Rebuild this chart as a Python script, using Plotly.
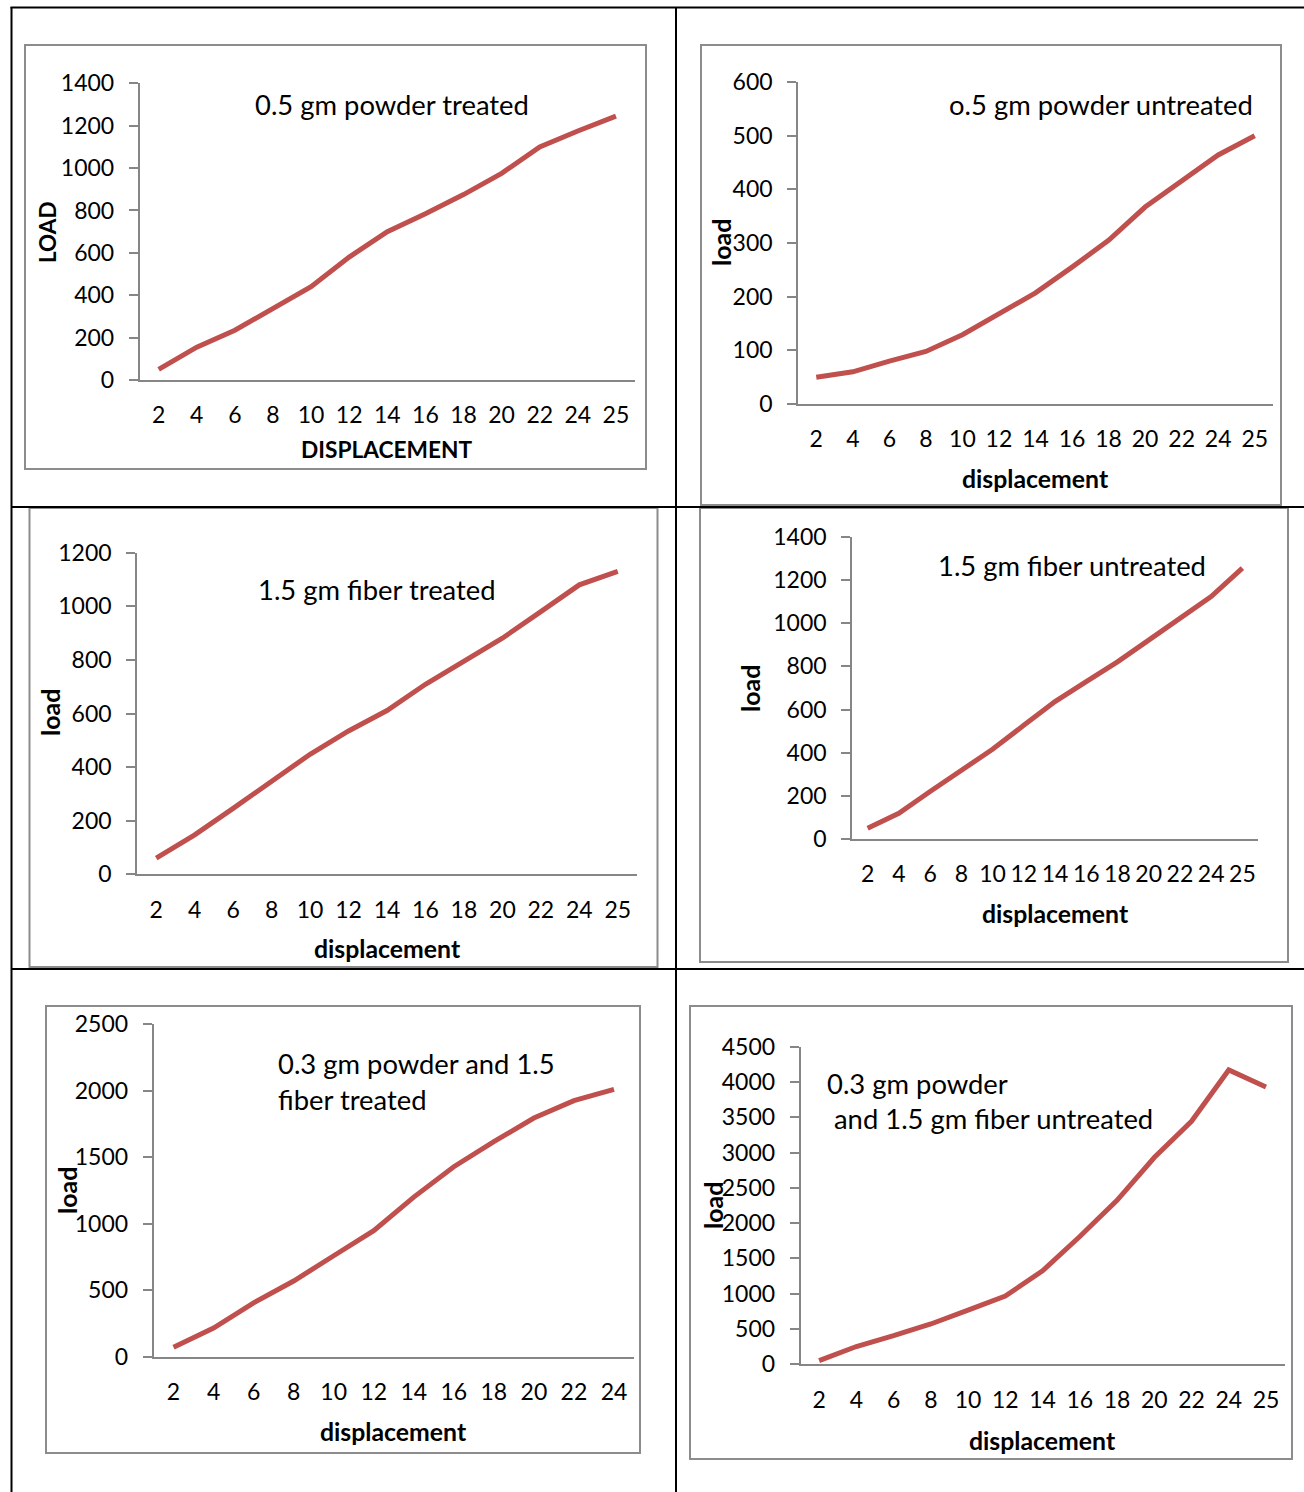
import plotly.graph_objects as go

W, H = 1304, 1492

# ---- data ----
displacement_13 = ["2", "4", "6", "8", "10", "12", "14", "16", "18", "20", "22", "24", "25"]
displacement_12 = ["2", "4", "6", "8", "10", "12", "14", "16", "18", "20", "22", "24"]

load_powder_treated = [50, 155, 235, 340, 440, 580, 700, 785, 875, 975, 1100, 1175, 1245]
load_powder_untreated = [50, 60, 80, 98, 129, 168, 207, 255, 305, 367, 415, 464, 500]
load_fiber_treated = [60, 147, 246, 346, 448, 535, 611, 709, 794, 881, 980, 1080, 1130]
load_fiber_untreated = [50, 119, 220, 317, 416, 527, 637, 730, 821, 922, 1021, 1124, 1256]
load_mix_treated = [70, 215, 404, 568, 758, 947, 1199, 1427, 1616, 1793, 1924, 2008]
load_mix_untreated = [52, 252, 405, 571, 767, 967, 1324, 1810, 2324, 2929, 3443, 4171, 3929]

titles = [
    "0.5 gm powder treated",
    "o.5 gm powder untreated",
    "1.5 gm fiber treated",
    "1.5 gm fiber untreated",
    "0.3 gm powder and 1.5<br>fiber treated",
    "0.3 gm powder",
]
x_titles = ["DISPLACEMENT", "displacement", "displacement", "displacement", "displacement", "displacement"]
y_titles = ["LOAD", "load", "load", "load", "load", "load"]
y_max = [1400, 600, 1200, 1400, 2500, 4500]
y_step = [200, 100, 200, 200, 500, 500]

# ---- layout geometry (pixels from top-left of the page) ----
panels = [
    dict(x=displacement_13, y=load_powder_treated, plot=(139.6, 635, 83.3, 380),
         frame=(25, 646, 45, 469), xt_y=450, yt=(47, 232), title=(253, 105)),
    dict(x=displacement_13, y=load_powder_untreated, plot=(798, 1273, 82, 404),
         frame=(701, 1281, 45, 505), xt_y=479, yt=(721, 243), title=(947, 105)),
    dict(x=displacement_13, y=load_fiber_treated, plot=(137, 637, 552.7, 874.3),
         frame=(29.5, 657.5, 508, 967), xt_y=948, yt=(50, 713), title=(256, 590)),
    dict(x=displacement_13, y=load_fiber_untreated, plot=(852, 1258, 537, 839),
         frame=(700, 1288, 508, 962), xt_y=913, yt=(750, 689), title=(936, 566)),
    dict(x=displacement_12, y=load_mix_treated, plot=(153.5, 634, 1024, 1356.6),
         frame=(46, 640, 1006, 1453), xt_y=1431, yt=(67, 1191), title=(276, 1081)),
    dict(x=displacement_13, y=load_mix_untreated, plot=(800.5, 1284.6, 1046.7, 1364.3),
         frame=(690, 1292, 1006, 1459), xt_y=1440, yt=(713, 1206), title=(825, 1083.5)),
]


def px(x):
    return x / W


def py(y):
    return 1 - y / H


FONT = "Lato, 'Open Sans', sans-serif"
LINE_RED = "#C0504D"
AXIS_GREY = "#868686"
FRAME_GREY = "#8C8C8C"

fig = go.Figure()
shapes = []
annotations = []

for i, p in enumerate(panels):
    n = i + 1
    xa = "x" if n == 1 else f"x{n}"
    ya = "y" if n == 1 else f"y{n}"
    fig.add_trace(go.Scatter(
        x=p["x"], y=p["y"], mode="lines",
        line=dict(color=LINE_RED, width=5),
        xaxis=xa, yaxis=ya, showlegend=False, hoverinfo="x+y",
    ))
    x0, x1, y0, y1 = p["plot"]
    xkey = "xaxis" if n == 1 else f"xaxis{n}"
    ykey = "yaxis" if n == 1 else f"yaxis{n}"
    fig.update_layout(**{
        xkey: dict(
            domain=[px(x0), px(x1)], anchor=ya, type="category",
            categoryorder="array", categoryarray=p["x"],
            range=[-0.5, len(p["x"]) - 0.5],
            showline=True, linecolor=AXIS_GREY, linewidth=1.6,
            ticks="", showgrid=False, zeroline=False, automargin=False,
            tickfont=dict(family=FONT, size=23, color="#000"),
            ticklabelstandoff=14,
        ),
        ykey: dict(
            domain=[py(y1), py(y0)], anchor=xa,
            range=[0, y_max[i]], dtick=y_step[i], tick0=0,
            showline=True, linecolor=AXIS_GREY, linewidth=1.6,
            ticks="outside", ticklen=9, tickwidth=1.6, tickcolor=AXIS_GREY,
            showgrid=False, zeroline=False, automargin=False,
            tickfont=dict(family=FONT, size=23, color="#000"),
            ticklabelstandoff=10,
        ),
    })

    # chart area frame
    fx0, fx1, fy0, fy1 = p["frame"]
    shapes.append(dict(type="rect", xref="paper", yref="paper",
                       x0=px(fx0), x1=px(fx1), y0=py(fy1), y1=py(fy0),
                       line=dict(color=FRAME_GREY, width=2), fillcolor="rgba(0,0,0,0)"))

    # axis titles (upper-case set slightly smaller to keep the same width)
    upper = x_titles[i].isupper()
    annotations.append(dict(
        text=f"<b>{x_titles[i]}</b>", xref="paper", yref="paper",
        x=px((x0 + x1) / 2), y=py(p["xt_y"]), xanchor="center", yanchor="middle",
        showarrow=False, font=dict(family=FONT, size=22.7 if upper else 24.8, color="#000"),
    ))
    annotations.append(dict(
        text=f"<b>{y_titles[i]}</b>", xref="paper", yref="paper",
        x=px(p["yt"][0]), y=py(p["yt"][1]), xanchor="center", yanchor="middle",
        textangle=-90, showarrow=False,
        font=dict(family=FONT, size=22.5 if upper else 25, color="#000"),
    ))

    # chart label
    tx, ty = p["title"]
    annotations.append(dict(
        text=titles[i], xref="paper", yref="paper", x=px(tx), y=py(ty),
        xanchor="left", yanchor="middle", align="left", showarrow=False,
        font=dict(family=FONT, size=27.4, color="#000"),
    ))

# second line of the last chart label
annotations.append(dict(
    text="and 1.5 gm fiber untreated", xref="paper", yref="paper",
    x=px(832), y=py(1118.5), xanchor="left", yanchor="middle", showarrow=False,
    font=dict(family=FONT, size=27.4, color="#000"),
))

# table grid lines
grid = [
    (10.5, 7.5, 1304, 7.5),
    (11.5, 7, 11.5, 1492),
    (676, 7, 676, 1492),
    (11, 507, 1304, 507),
    (11, 969, 1304, 969),
]
for gx0, gy0, gx1, gy1 in grid:
    shapes.append(dict(type="line", xref="paper", yref="paper",
                       x0=px(gx0), y0=py(gy0), x1=px(gx1), y1=py(gy1),
                       line=dict(color="#000", width=2)))

fig.update_layout(
    width=W, height=H,
    margin=dict(l=0, r=0, t=0, b=0, pad=0, autoexpand=False),
    paper_bgcolor="#fff", plot_bgcolor="rgba(0,0,0,0)",
    shapes=shapes, annotations=annotations, showlegend=False,
    font=dict(family=FONT, color="#000"),
)

fig.write_html("out.html")
